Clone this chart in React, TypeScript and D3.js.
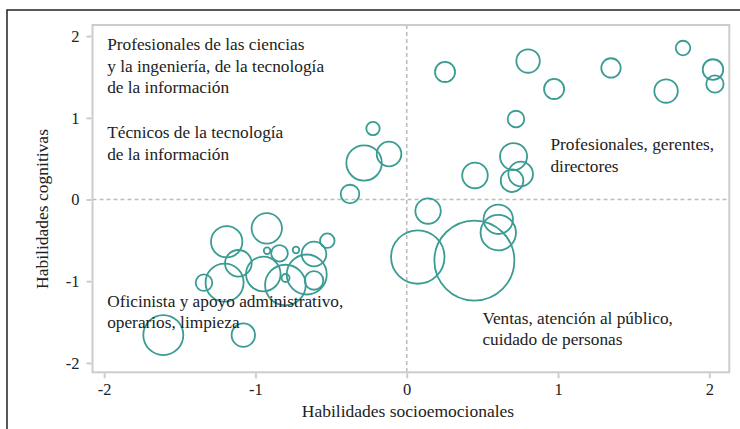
import React, { useEffect, useRef } from "react";
import * as d3 from "d3";

// Data
const socioemotional: number[] = [
  0.253, 0.802, 0.974, 1.35, 1.826, 2.024, 2.037, 1.714, 0.722, 0.706, 0.753, 0.696, 0.451,
  -0.223, -0.282, -0.117, -0.375,
  0.141, 0.073, 0.447, 0.605, 0.605,
  -0.925, -1.19, -1.113, -1.204, -1.34, -0.948, -0.802, -0.661, -0.613, -0.613, -0.525, -0.841,
  -0.923, -0.732, -0.801, -1.609, -1.08,
];
const cognitive: number[] = [
  1.561, 1.695, 1.353, 1.61, 1.854, 1.591, 1.414, 1.328, 0.985, 0.526, 0.312, 0.23, 0.294,
  0.869, 0.447, 0.557, 0.067,
  -0.141, -0.704, -0.747, -0.242, -0.406,
  -0.353, -0.517, -0.781, -1.018, -1.018, -0.912, -1.047, -0.918, -0.667, -0.991, -0.504, -0.659,
  -0.627, -0.618, -0.961, -1.659, -1.659,
];
const employment: number[] = [
  6.3, 8.6, 6.3, 5.9, 3.3, 6.6, 4.7, 8.6, 4.3, 11.4, 9.5, 8.0, 10.2,
  2.8, 19.6, 9.5, 5.4,
  10.1, 44.6, 100, 13.5, 19.6,
  14.4, 15.4, 11.1, 22.6, 4.3, 18.7, 25.8, 25, 9.5, 5.4, 3.3, 4.3,
  0.68, 0.68, 1.0, 25, 8.6,
];
const xTicks: number[] = [-2, -1, 0, 1, 2];
const yTicks: number[] = [-2, -1, 0, 1, 2];
const xTitle = "Habilidades socioemocionales";
const yTitle = "Habilidades cognitivas";
const annotations: { x: number; y: number; lines: string[] }[] = [
  { x: -1.98, y: 1.83, lines: ["Profesionales de las ciencias", "y la ingeniería, de la tecnología", "de la información"] },
  { x: -1.98, y: 0.75, lines: ["Técnicos de la tecnología", "de la información"] },
  { x: 0.95, y: 0.6, lines: ["Profesionales, gerentes,", "directores"] },
  { x: -1.98, y: -1.31, lines: ["Oficinista y apoyo administrativo,", "operarios, limpieza"] },
  { x: 0.5, y: -1.52, lines: ["Ventas, atención al público,", "cuidado de personas"] },
];

const W = 740;
const H = 429;
const PL = 92.5, PR = 729.3, PT = 25, PB = 372.3;
const FONT = "'Liberation Serif', 'Times New Roman', serif";
const TEAL = "#3a9c93";
const GRID = "#bdbdbd";
const FRAME = "#cccccc";
const INK = "#222222";

export default function App() {
  const xAxisRef = useRef<SVGGElement>(null);
  const yAxisRef = useRef<SVGGElement>(null);

  const x = d3.scaleLinear().domain([-2.077, 2.132]).range([PL, PR]);
  const y = d3.scaleLinear().domain([-2.115, 2.136]).range([PB, PT]);
  const r = d3.scaleSqrt().domain([0, 100]).range([0, 40]);

  useEffect(() => {
    const fmt = (d: d3.NumberValue) => String(d);
    const xa = d3.axisBottom(x).tickValues(xTicks).tickSize(5).tickPadding(5).tickFormat(fmt);
    const ya = d3.axisLeft(y).tickValues(yTicks).tickSize(5).tickPadding(7).tickFormat(fmt);
    const gx = d3.select(xAxisRef.current!);
    gx.call(xa);
    const gy = d3.select(yAxisRef.current!);
    gy.call(ya);
    [gx, gy].forEach((g) => {
      g.select(".domain").remove();
      g.selectAll(".tick line").attr("stroke", FRAME).attr("stroke-width", 2);
      g.selectAll(".tick text")
        .attr("fill", INK)
        .style("font-family", FONT)
        .style("font-size", "16.5px");
    });
  });

  const fs = 17.3;
  const lh = 21.7;
  const ts = 17.5;

  return (
    <div style={{ position: "absolute", left: 0, top: 0 }}>
      <svg width={W} height={H} style={{ display: "block", background: "#fff" }}>
        <rect x={7} y={10} width={800} height={600} fill="none" stroke={INK} strokeWidth={1.5} />
        <line x1={x(0)} x2={x(0)} y1={PT} y2={PB} stroke={GRID} strokeWidth={1.6} strokeDasharray="4,3" />
        <line x1={PL} x2={PR} y1={y(0)} y2={y(0)} stroke={GRID} strokeWidth={1.6} strokeDasharray="4,3" />
        <rect x={PL} y={PT} width={PR - PL} height={PB - PT} fill="none" stroke={FRAME} strokeWidth={2} />
        <g ref={xAxisRef} transform={`translate(0,${PB + 1})`} />
        <g ref={yAxisRef} transform={`translate(${PL - 1},0)`} />
        {socioemotional.map((sx, i) => (
          <circle
            key={i}
            cx={x(sx)}
            cy={y(cognitive[i])}
            r={r(employment[i])}
            fill="none"
            stroke={TEAL}
            strokeWidth={1.8}
          />
        ))}
        {annotations.map((a, i) => (
          <text key={i} x={x(a.x)} y={y(a.y)} fill={INK} style={{ fontFamily: FONT, fontSize: fs }}>
            {a.lines.map((l, j) => (
              <tspan key={j} x={x(a.x)} dy={j === 0 ? 0 : lh}>
                {l}
              </tspan>
            ))}
          </text>
        ))}
        <text
          x={408}
          y={416.5}
          textAnchor="middle"
          fill={INK}
          style={{ fontFamily: FONT, fontSize: ts }}
        >
          {xTitle}
        </text>
        <text
          transform={`translate(47.5,209) rotate(-90)`}
          textAnchor="middle"
          fill={INK}
          style={{ fontFamily: FONT, fontSize: ts }}
        >
          {yTitle}
        </text>
      </svg>
    </div>
  );
}
